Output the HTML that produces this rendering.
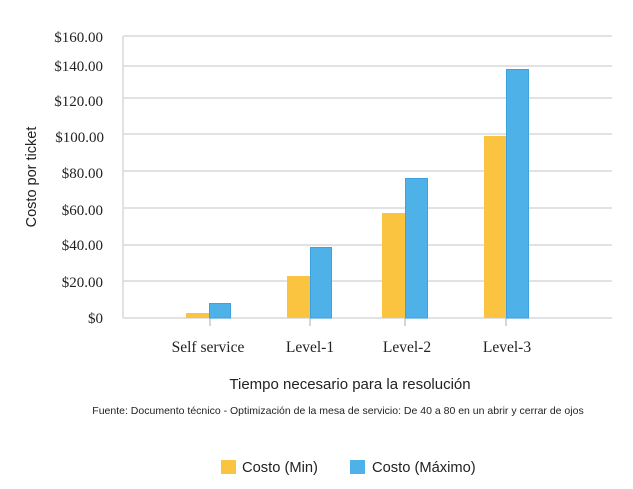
<!DOCTYPE html>
<html><head><meta charset="utf-8"><style>
html,body{margin:0;padding:0;background:#fff;}
svg{display:block;}
.yl{font-family:"Liberation Serif",serif;font-size:15px;fill:#222;text-anchor:end;}
.xl{font-family:"Liberation Serif",serif;font-size:15.5px;fill:#222;text-anchor:middle;}
.s{font-family:"Liberation Sans",sans-serif;fill:#222;}
</style></head><body>
<svg width="633" height="489" viewBox="0 0 633 489">
<g stroke="#d8d8de" stroke-width="1.5">
<line x1="123" x2="612" y1="36" y2="36"/>
<line x1="123" x2="612" y1="66" y2="66"/>
<line x1="123" x2="612" y1="98" y2="98"/>
<line x1="123" x2="612" y1="134" y2="134"/>
<line x1="123" x2="612" y1="171" y2="171"/>
<line x1="123" x2="612" y1="208" y2="208"/>
<line x1="123" x2="612" y1="245" y2="245"/>
<line x1="123" x2="612" y1="281" y2="281"/>
<line x1="123" x2="612" y1="318" y2="318"/>
<line x1="123" x2="123" y1="36" y2="318"/>
</g>
<g stroke="#c8c8cc" stroke-width="1.5">
<line x1="210" x2="210" y1="318" y2="326"/>
<line x1="310" x2="310" y1="318" y2="326"/>
<line x1="405" x2="405" y1="318" y2="326"/>
<line x1="506" x2="506" y1="318" y2="326"/>
</g>
<g fill="#fac440">
<rect x="186" y="313" width="23" height="5"/>
<rect x="287" y="276" width="23" height="42"/>
<rect x="382" y="213" width="23" height="105"/>
<rect x="484" y="136" width="22" height="182"/>
</g>
<g fill="#4eb2e8" stroke="#3aa3e0" stroke-width="1">
<rect x="209.5" y="303.5" width="21" height="14.5"/>
<rect x="310.5" y="247.5" width="21" height="70.5"/>
<rect x="405.5" y="178.5" width="22" height="139.5"/>
<rect x="506.5" y="69.5" width="22" height="248.5"/>
</g>
<g class="yl">
<text x="103" y="42">$160.00</text>
<text x="103" y="71">$140.00</text>
<text x="103" y="106">$120.00</text>
<text x="104" y="142">$100.00</text>
<text x="103" y="178">$80.00</text>
<text x="103" y="215">$60.00</text>
<text x="103" y="250">$40.00</text>
<text x="103" y="287">$20.00</text>
<text x="103" y="323">$0</text>
</g>
<g class="xl">
<text x="208" y="352">Self service</text>
<text x="310" y="352">Level-1</text>
<text x="407" y="352">Level-2</text>
<text x="507" y="352">Level-3</text>
</g>
<text class="s" x="36" y="177" font-size="14.5" text-anchor="middle" transform="rotate(-90 36 177)">Costo por ticket</text>
<text class="s" x="350" y="389" font-size="15" text-anchor="middle">Tiempo necesario para la resolución</text>
<text class="s" x="338" y="414" font-size="10.5" text-anchor="middle">Fuente: Documento técnico - Optimización de la mesa de servicio: De 40 a 80 en un abrir y cerrar de ojos</text>
<rect x="221" y="460" width="15" height="14" fill="#fac440"/>
<text class="s" x="242" y="472" font-size="14.7">Costo (Min)</text>
<rect x="350" y="460" width="15" height="14" fill="#4eb2e8"/>
<text class="s" x="372" y="472" font-size="14.7">Costo (Máximo)</text>
</svg>
</body></html>
